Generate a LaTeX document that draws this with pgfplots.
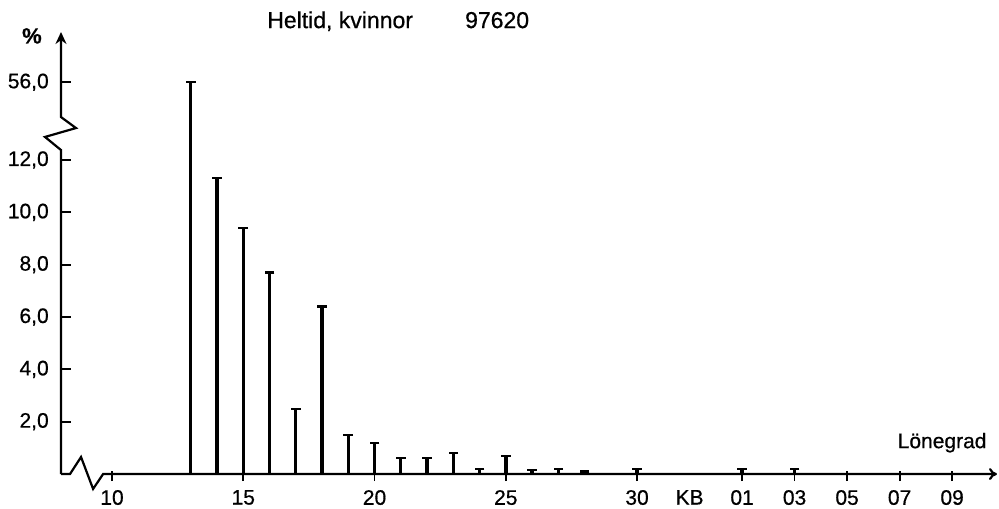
\documentclass[border=0pt]{standalone}
\usepackage{fontspec}
\setmainfont{Liberation Sans}[FakeBold=0.6]
\usepackage{pgfplots}
\usepackage{pgfplotstable}
\pgfplotsset{compat=1.18}
\usetikzlibrary{arrows.meta}

% grad: position on the x axis (34 = "01", 36 = "03"); val: percent
\pgfplotstableread{
grad val
13 56.0
14 11.3
15 9.4
16 7.7
17 2.5
18 6.4
19 1.5
20 1.2
21 0.6
22 0.6
23 0.8
24 0.2
25 0.7
26 0.15
27 0.2
28 0.1
30 0.2
34 0.2
36 0.2
}\data

\begin{document}
\begin{tikzpicture}
\begin{axis}[name=ax, scale only axis, width=467.95pt, height=221pt,
  xmin=8.057, xmax=43.71, ymin=0, ymax=16.89,
  axis x line=bottom, axis y line=left, axis line style={draw=none},
  clip=false,
  tick align=inside,
  major tick length=5pt,
  ticklabel style={font=\fontsize{10.5}{12}\selectfont},
  xtick={10,15,20,25,30,34,36,38,40,42},
  xticklabels={10,15,20,25,30,01,03,05,07,09},
  extra x ticks={32}, extra x tick labels={KB},
  extra x tick style={major tick length=0pt},
  x tick style={yshift=-3.5pt, black, line width=0.9pt},
  y tick style={black, line width=0.9pt},
  ytick={2,4,6,8,10,12,14.97},
  yticklabels={{2,0},{4,0},{6,0},{8,0},{10,0},{12,0},{56,0}},
  yticklabel style={xshift=-2.6pt},
  xticklabel style={yshift=-4.5pt},
  minor tick num=0,
]
\addplot[ycomb, black, line width=1.7pt, mark=-, mark size=2.4pt,
  mark options={line width=1.1pt},
  y filter/.expression={y>20 ? y-41.03 : y}] table[x=grad,y=val]{\data};

\draw[line width=1.1pt, -{Stealth[length=6pt,width=5.5pt]}]
  (axis cs:8.057,0) -- (axis cs:8.057,12.38) -- (axis cs:7.447,12.88)
  -- (axis cs:8.628,13.22) -- (axis cs:8.057,13.64) -- (axis cs:8.057,16.89);
\draw[line width=1.1pt, -{To[length=4pt,width=6pt]}]
  (axis cs:8.057,0) -- (axis cs:8.40,0) -- (axis cs:8.82,0.65)
  -- (axis cs:9.28,-0.57) -- (axis cs:9.66,0) -- (axis cs:43.71,0);

\node[anchor=base, font=\fontsize{11.5}{13}\selectfont] at (axis cs:18.69,17.04) {Heltid, kvinnor};
\node[anchor=base, font=\fontsize{11.5}{13}\selectfont] at (axis cs:24.67,17.04) {97620};
\node[font=\fontsize{11}{13}\selectfont] at (axis cs:6.95,16.74) {\textbf{\%}};
\node[anchor=base, font=\fontsize{10.5}{12}\selectfont] at (axis cs:41.62,0.99) {Lönegrad};
\end{axis}
\pgfresetboundingbox
\path ([shift={(-30.5pt,-17pt)}]ax.south west) rectangle ([shift={(1pt,16pt)}]ax.north east);
\end{tikzpicture}
\end{document}
